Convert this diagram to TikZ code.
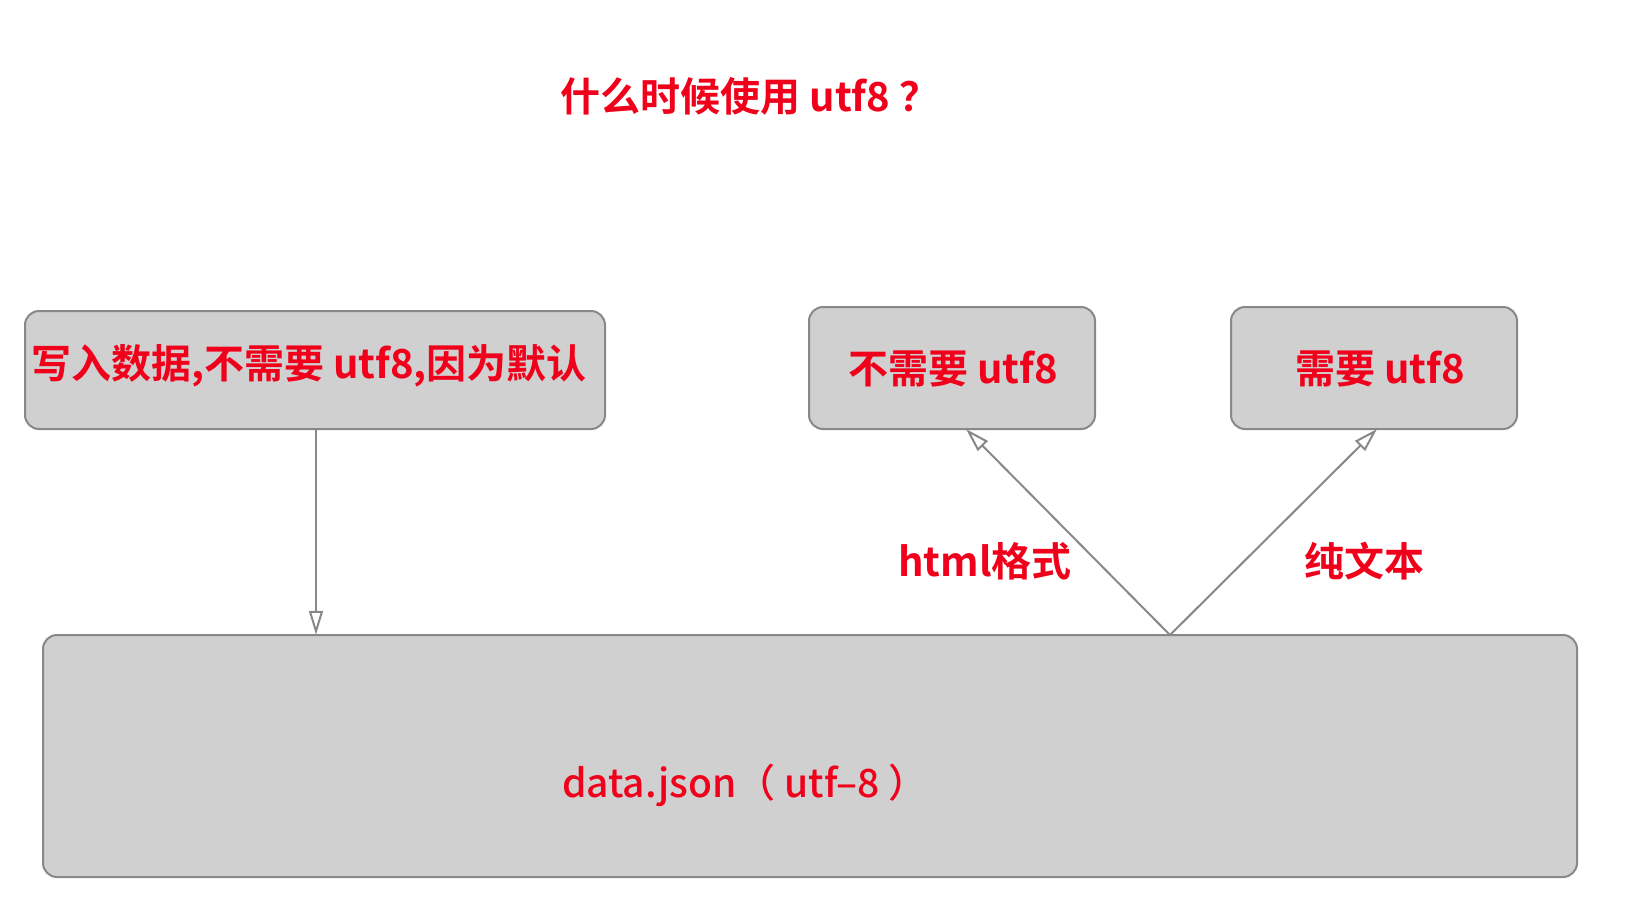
\documentclass[tikz,border=0pt]{standalone}
\usepackage{fontspec}
\setmainfont{Noto Sans CJK SC}[BoldFont={Noto Sans CJK SC Bold}]
\newfontfamily\medfont{Noto Sans CJK SC Medium}
\usetikzlibrary{arrows.meta}
\definecolor{boxfill}{HTML}{D0D0D0}
\definecolor{boxline}{HTML}{888888}
\definecolor{txtred}{HTML}{F0001A}
\tikzset{
  box/.style={draw=boxline, fill=boxfill, line width=2pt, rounded corners=14pt},
  lbl/.style={text=txtred, font=\fontsize{40}{44}\selectfont\bfseries, inner sep=0pt},
  conn/.style={draw=boxline, line width=2pt, -{Triangle[open, length=24pt, width=14pt, line width=2pt]}}
}
\begin{document}
\begin{tikzpicture}[x=1pt,y=-1pt]
\useasboundingbox (0,0) rectangle (1652,922);
\node[lbl] (title) at (750,96) {什么时候使用 utf8 ？};
\draw[box] (25,311) rectangle (605,429);
\node[inner sep=0pt, minimum width=580pt, minimum height=118pt] (A) at (315,370) {};
\node[lbl] (At) at (309,366) {写入数据,不需要 utf8,因为默认};
\draw[box] (809,307) rectangle (1095,429);
\node[inner sep=0pt, minimum width=286pt, minimum height=122pt] (B) at (952,368) {};
\node[lbl] (Bt) at (953,369) {不需要 utf8};
\draw[box] (1231,307) rectangle (1517,429);
\node[inner sep=0pt, minimum width=286pt, minimum height=122pt] (C) at (1374,368) {};
\node[lbl] (Ct) at (1380,369) {需要 utf8};
\draw[box] (43,635) rectangle (1577,877);
\node[inner sep=0pt, minimum width=1534pt, minimum height=242pt] (D) at (810,756) {};
\node[lbl, font=\fontsize{39}{44}\medfont] (Dt) at (745,785) {data.json（ utf–8 ）};
\coordinate (Dtop) at (1170,635);
\coordinate (Bbot) at (966,429);
\coordinate (Cbot) at (1377,429);
\draw[conn] (A.south -| 316,0) -- (D.north -| 316,0);
\draw[conn] (Dtop) -- (Bbot);
\draw[conn] (Dtop) -- (Cbot);
\node[lbl] (h) at (985,561) {html格式};
\node[lbl] (p) at (1364,561) {纯文本};
\end{tikzpicture}
\end{document}
